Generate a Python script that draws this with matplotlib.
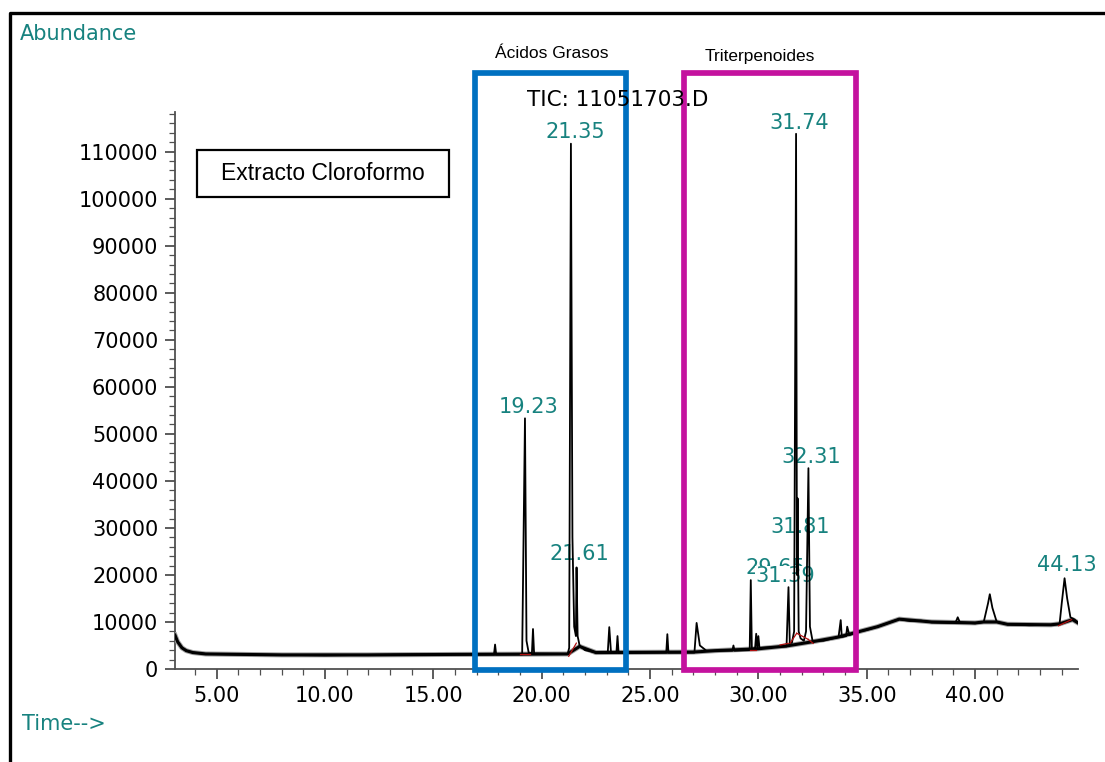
import matplotlib
matplotlib.use("Agg")
import matplotlib.pyplot as plt
from matplotlib.patches import Rectangle
from matplotlib.lines import Line2D
from matplotlib.ticker import MultipleLocator, FormatStrFormatter

# chromatogram trace (time in min, abundance)
trace_time = [3.08, 3.2, 3.4, 3.6, 3.9, 4.5, 6.0, 8.0, 10.0, 12.0, 14.0, 16.0,
              17.8, 17.85, 17.9, 19.1, 19.23, 19.3, 19.4, 19.55, 19.6, 19.65,
              21.2, 21.27, 21.35, 21.42, 21.5, 21.58, 21.61, 21.66, 21.75, 22.0,
              22.5, 23.05, 23.12, 23.2, 23.45, 23.5, 23.55, 25.75, 25.8, 25.85,
              27.05, 27.15, 27.3, 27.6, 28.8, 28.85, 28.9, 29.6, 29.65, 29.7,
              29.85, 29.9, 29.95, 30.0, 30.05, 31.3, 31.39, 31.45, 31.55, 31.65,
              31.74, 31.78, 31.81, 31.86, 31.95, 32.1, 32.2, 32.31, 32.38, 32.5,
              33.0, 33.7, 33.8, 33.85, 34.05, 34.1, 34.2, 34.6, 35.0, 35.5,
              36.0, 36.5, 37.0, 37.5, 38.0, 38.8, 39.1, 39.2, 39.3, 40.0,
              40.4, 40.6, 40.68, 40.8, 41.0, 41.5, 42.5, 43.5, 43.9, 44.0,
              44.13, 44.25, 44.4, 44.6, 44.75]
trace_abund = [7200, 5800, 4500, 3900, 3500, 3200, 3100, 3000, 2900, 3000, 3100, 3100,
               3100, 5200, 3100, 3100, 53300, 6000, 3500, 3300, 8500, 3300,
               3200, 4500, 111700, 28000, 9000, 7000, 21600, 7000, 5000, 4000,
               3500, 3500, 8900, 3500, 3500, 7000, 3400, 3500, 7400, 3500,
               3500, 9800, 5000, 3900, 3900, 5000, 3900, 4000, 18900, 4200,
               4500, 7500, 4500, 7000, 4500, 4800, 17400, 5500, 5600, 8000,
               113800, 20000, 36300, 8000, 6500, 6000, 8000, 42700, 9000, 6000,
               6000, 6800, 10400, 6800, 7000, 9000, 7200, 7900, 8300, 9000,
               9800, 10600, 10200, 10300, 9900, 9800, 9900, 11000, 9900, 9700,
               10000, 14000, 15900, 13000, 10000, 9500, 9300, 9400, 9600, 14000,
               19300, 15000, 11000, 10500, 9800]

# slow baseline under the noise band
base_time = [3.08, 3.2, 3.4, 3.6, 3.9, 4.5, 8.0, 12.0, 16.0, 21.2, 21.75, 22.5,
             27.0, 28.0, 30.0, 31.3, 32.5, 33.7, 34.6, 35.5, 36.5, 38.0, 40.0,
             40.4, 41.0, 41.5, 43.5, 43.9, 44.5, 44.75]
base_abund = [7200, 5800, 4500, 3900, 3500, 3200, 3000, 3000, 3100, 3200, 4800, 3500,
              3600, 3900, 4300, 4900, 5800, 6800, 7900, 9000, 10600, 10000, 9800,
              10000, 10000, 9500, 9400, 9600, 10500, 9800]

# integration baselines (t0, y0, t1, y1)
base_segments = [(19.0, 3200, 19.45, 3200), (21.25, 2700, 21.6, 5500),
                 (29.6, 4000, 29.9, 4000), (31.0, 5100, 31.38, 5450),
                 (31.46, 5450, 31.77, 7600), (31.77, 7600, 32.3, 6300),
                 (32.3, 6300, 32.53, 5450), (43.85, 9200, 44.45, 10500)]

# peak labels: text, label x, label y
peak_labels = ["21.35", "31.74", "19.23", "21.61", "32.31", "31.81", "29.65", "31.39", "44.13"]
label_x = [21.53, 31.88, 19.41, 21.72, 32.43, 31.92, 30.80, 31.24, 44.24]
label_y = [114200, 116100, 55800, 24400, 45000, 30100, 21400, 19700, 22100]

# highlighted regions: name, t start, t end, colour
regions = ["Ácidos Grasos", "Triterpenoides"]
region_start = [16.94, 26.59]
region_end = [23.87, 34.50]
region_colors = ["#0070C0", "#C4129E"]

teal = "#17827f"
W, H = 1105, 762

fig = plt.figure(figsize=(W / 100, H / 100), dpi=100)
ax = fig.add_axes([175 / W, 1 - 669 / H, (1078 - 175) / W, (669 - 111.7) / H])

ax.plot(base_time, base_abund, color="#a0a0a0", lw=3.6, zorder=3.8,
        solid_joinstyle="round")
ax.plot(base_time, base_abund, color="black", lw=2.2, zorder=3.9,
        solid_joinstyle="round")
ax.plot(trace_time, trace_abund, color="black", lw=1.3, zorder=4)
for t0, y0, t1, y1 in base_segments:
    ax.plot([t0, t1], [y0, y1], color="#b01010", lw=0.9, zorder=5)

ax.set_xlim(3.08, 44.75)
ax.set_ylim(0, 118500)

for s in ["top", "right"]:
    ax.spines[s].set_visible(False)
for s in ["left", "bottom"]:
    ax.spines[s].set_color("#505050")
    ax.spines[s].set_linewidth(1.3)

ax.xaxis.set_major_locator(MultipleLocator(5))
ax.xaxis.set_minor_locator(MultipleLocator(1))
ax.xaxis.set_major_formatter(FormatStrFormatter("%.2f"))
ax.yaxis.set_major_locator(MultipleLocator(10000))
ax.yaxis.set_minor_locator(MultipleLocator(2000))
ax.tick_params(which="major", length=7, width=1.1, color="#303030",
               labelsize=15, pad=5)
ax.tick_params(which="minor", length=4, width=0.9, color="#505050")
for lab in ax.get_xticklabels() + ax.get_yticklabels():
    lab.set_family("DejaVu Sans")

for txt, lx, ly in zip(peak_labels, label_x, label_y):
    bb = None
    if txt == "31.39":
        bb = dict(facecolor="white", edgecolor="none", pad=0.5)
    ax.text(lx, ly, txt, color=teal, fontsize=15, ha="center", va="center",
            family="DejaVu Sans", zorder=3, bbox=bb)

for name, t0, t1, c in zip(regions, region_start, region_end, region_colors):
    ax.add_patch(Rectangle((t0, -210), t1 - t0, 126960, fill=False,
                           edgecolor=c, lw=4.1, clip_on=False, zorder=6))

# figure-level texts
fig.text(20 / W, 1 - 34 / H, "Abundance", color=teal, fontsize=15,
         family="DejaVu Sans", va="center", ha="left")
fig.text(22 / W, 1 - 724 / H, "Time-->", color=teal, fontsize=15,
         family="DejaVu Sans", va="center", ha="left")
fig.text(527 / W, 1 - 100 / H, "TIC: 11051703.D", color="black", fontsize=15.5,
         family="DejaVu Sans", va="center", ha="left", zorder=2)
fig.text(552 / W, 1 - 53 / H, "Ácidos Grasos", fontsize=12.5,
         family="Liberation Sans", va="center", ha="center")
fig.text(760 / W, 1 - 56 / H, "Triterpenoides", fontsize=12.5,
         family="Liberation Sans", va="center", ha="center")
fig.text(323 / W, 1 - 174 / H, "Extracto Cloroformo", fontsize=16.5,
         family="Liberation Sans", va="center", ha="center")
fig.patches.append(Rectangle((197 / W, 1 - 197 / H), (449 - 197) / W, 47 / H,
                             transform=fig.transFigure, fill=False,
                             edgecolor="black", lw=1.6))

# outer frame (left and top edges visible)
fig.lines.append(Line2D([10 / W, 10 / W, 1.0], [0.0, 1 - 13.3 / H, 1 - 13.3 / H],
                        transform=fig.transFigure, color="black", lw=2.4))

fig.savefig("out.png", dpi=100)
